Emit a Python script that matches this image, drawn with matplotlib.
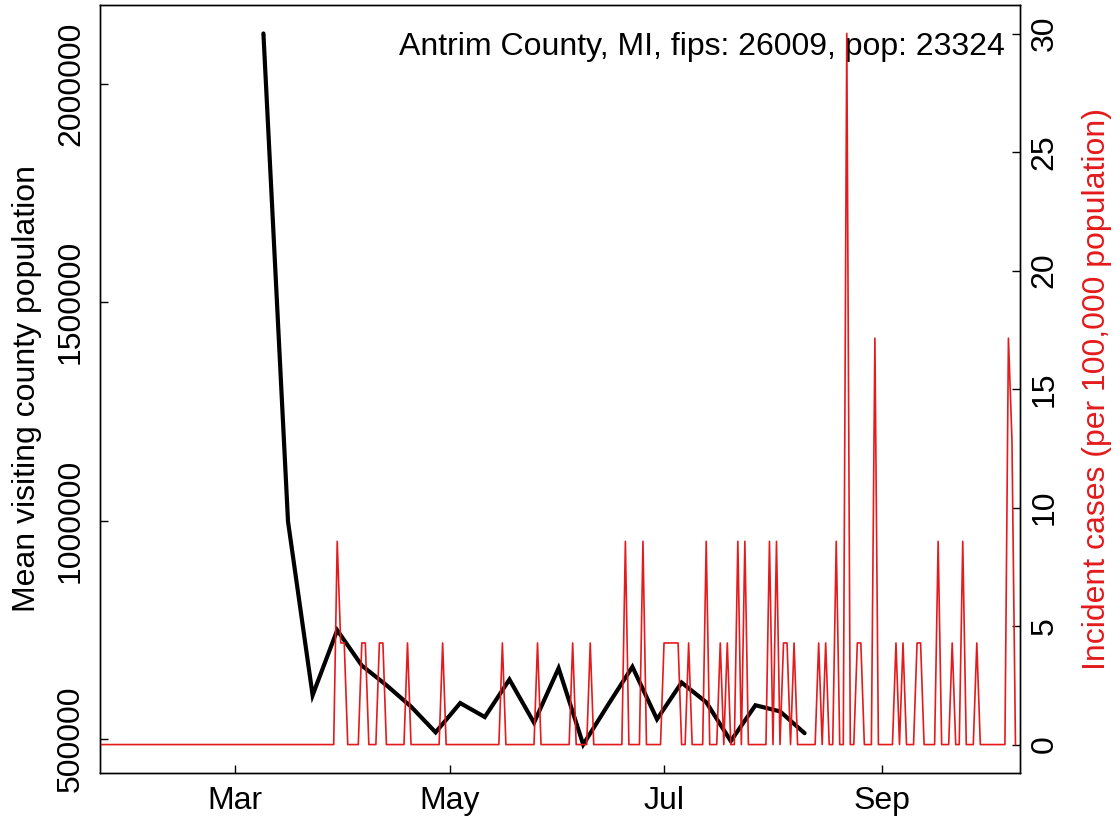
#----Modules----#
import pandas as pd
import matplotlib
matplotlib.use('Agg')
import matplotlib.pyplot as plt

plt.rcParams['font.family'] = ['Liberation Sans', 'DejaVu Sans']

#----Data----#
county_label = "Antrim County, MI, fips: 26009, pop: 23324"
county_pop = 23324

# weekly mean visiting population (starts 2020-03-09)
visit_start = '2020-03-09'
visit_values = [2116000, 998000, 600000, 749000, 668000, 623000, 574000, 515000,
                582000, 550000, 636000, 537000, 662000, 487000, 577000, 665000,
                545000, 629000, 584000, 495000, 577000, 563000, 513000]

# daily reported cases, only the days with cases (all other days are 0)
case_first_day = '2020-01-22'
case_last_day = '2020-10-09'
case_dates = ['2020-03-30', '2020-03-31', '2020-04-01', '2020-04-06', '2020-04-07',
              '2020-04-11', '2020-04-12', '2020-04-19', '2020-04-29', '2020-05-16',
              '2020-05-26', '2020-06-05', '2020-06-10', '2020-06-20', '2020-06-25',
              '2020-07-01', '2020-07-02', '2020-07-03', '2020-07-04', '2020-07-05',
              '2020-07-08', '2020-07-13', '2020-07-17', '2020-07-19', '2020-07-22',
              '2020-07-24', '2020-07-31', '2020-08-02', '2020-08-04', '2020-08-05',
              '2020-08-07', '2020-08-14', '2020-08-16', '2020-08-19', '2020-08-22',
              '2020-08-25', '2020-08-26', '2020-08-30', '2020-09-05', '2020-09-07',
              '2020-09-11', '2020-09-12', '2020-09-17', '2020-09-21', '2020-09-24',
              '2020-09-28', '2020-10-07', '2020-10-08']
case_counts = [2, 1, 1, 1, 1,
               1, 1, 1, 1, 1,
               1, 1, 1, 2, 2,
               1, 1, 1, 1, 1,
               1, 2, 1, 1, 2,
               2, 2, 2, 1, 1,
               1, 1, 1, 2, 7,
               1, 1, 4, 1, 1,
               1, 1, 2, 1, 2,
               1, 4, 3]

tick_dates = ['2020-03-01', '2020-05-01', '2020-07-01', '2020-09-01']
tick_names = ['Mar', 'May', 'Jul', 'Sep']

#----Build series----#
visit_df = pd.DataFrame({
    'date': pd.date_range(visit_start, periods=len(visit_values), freq='7D'),
    'visits': visit_values})

cases_df = pd.DataFrame({'date': pd.date_range(case_first_day, case_last_day, freq='D')})
cases_df['cases'] = 0
cases_df = cases_df.set_index('date')
cases_df.loc[pd.to_datetime(case_dates), 'cases'] = case_counts
cases_df['incidence'] = cases_df['cases'] / county_pop * 100000
cases_df = cases_df.reset_index()

#----Plot----#
red = '#E41A1C'
fs = 23

fig = plt.figure(figsize=(11.19, 8.22), dpi=100)
ax1 = fig.add_axes([100 / 1119, 49 / 822, 920 / 1119, 768 / 822])
ax2 = ax1.twinx()

ax1.plot(visit_df['date'], visit_df['visits'], color='black', lw=3,
         solid_joinstyle='miter', solid_capstyle='round')
ax2.plot(cases_df['date'], cases_df['incidence'], color=red, lw=1.2)

ax1.set_xlim(pd.Timestamp('2020-01-22 12:00'), pd.Timestamp('2020-10-10 07:00'))
ax1.set_ylim(421800, 2181200)
ax2.set_ylim(-1.2, 31.21)

ax1.set_xticks(pd.to_datetime(tick_dates))
ax1.set_xticklabels(tick_names)
ax1.set_yticks([500000, 1000000, 1500000, 2000000])
ax1.set_yticklabels(['500000', '1000000', '1500000', '2000000'])
ax2.set_yticks([0, 5, 10, 15, 20, 25, 30])

ax1.tick_params(axis='x', direction='in', length=6, width=1, labelsize=fs, pad=9)
ax1.tick_params(axis='y', direction='in', length=6, width=1, labelsize=fs, pad=10)
ax2.tick_params(axis='y', direction='in', length=6, width=1, labelsize=fs, pad=7)
for lab in ax1.get_yticklabels():
    lab.set_rotation(90)
    lab.set_va('center')
for lab in ax2.get_yticklabels():
    lab.set_rotation(90)
    lab.set_va('center')

ax1.set_ylabel('Mean visiting county population', fontsize=fs, labelpad=10)
ax2.set_ylabel('Incident cases (per 100,000 population)', fontsize=fs, color=red,
               labelpad=16)

for ax in (ax1, ax2):
    for s in ax.spines.values():
        s.set_linewidth(1)

ax1.text(0.984, 0.945, county_label, transform=ax1.transAxes, ha='right',
         va='center', fontsize=fs)

fig.savefig('out.png', dpi=100)
